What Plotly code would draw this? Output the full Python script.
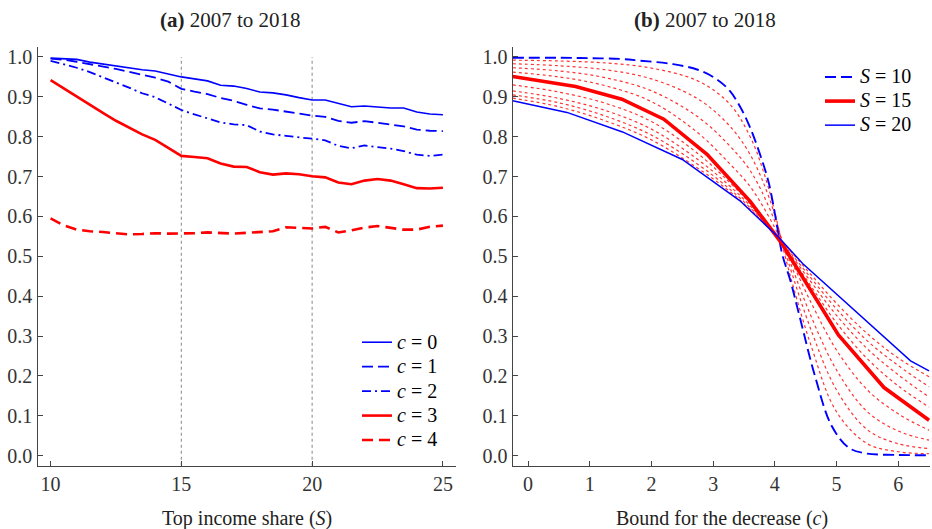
import plotly.graph_objects as go

# ---------------- Panel (a): share of the top income group ----------------
share_S = [10.0, 10.5, 11.0, 11.5, 12.0, 12.5, 13.0, 13.5, 14.0, 14.5, 15.0,
           15.5, 16.0, 16.5, 17.0, 17.5, 18.0, 18.5, 19.0, 19.5, 20.0,
           20.5, 21.0, 21.5, 22.0, 22.5, 23.0, 23.5, 24.0, 24.5, 25.0]

prob_c0 = [0.997, 0.996, 0.994, 0.987, 0.982, 0.978, 0.973, 0.968, 0.965, 0.958, 0.950,
           0.945, 0.940, 0.929, 0.927, 0.921, 0.912, 0.910, 0.905, 0.898, 0.892,
           0.892, 0.883, 0.875, 0.877, 0.875, 0.872, 0.872, 0.862, 0.857, 0.855]
prob_c1 = [0.996, 0.993, 0.988, 0.982, 0.977, 0.970, 0.963, 0.956, 0.948, 0.938, 0.920,
           0.913, 0.907, 0.897, 0.890, 0.880, 0.871, 0.868, 0.863, 0.857, 0.853,
           0.850, 0.840, 0.835, 0.839, 0.835, 0.830, 0.826, 0.818, 0.815, 0.814]
prob_c2 = [0.990, 0.982, 0.973, 0.962, 0.950, 0.936, 0.923, 0.909, 0.899, 0.883, 0.867,
           0.856, 0.846, 0.836, 0.831, 0.829, 0.813, 0.806, 0.802, 0.799, 0.795,
           0.791, 0.777, 0.771, 0.778, 0.774, 0.770, 0.764, 0.755, 0.752, 0.755]
prob_c3 = [0.942, 0.921, 0.900, 0.880, 0.860, 0.840, 0.822, 0.806, 0.792, 0.771, 0.752,
           0.749, 0.746, 0.733, 0.725, 0.724, 0.711, 0.705, 0.708, 0.706, 0.701,
           0.698, 0.685, 0.681, 0.690, 0.694, 0.690, 0.681, 0.671, 0.670, 0.672]
prob_c4 = [0.595, 0.578, 0.567, 0.563, 0.561, 0.558, 0.555, 0.556, 0.558, 0.557, 0.557,
           0.558, 0.560, 0.559, 0.557, 0.559, 0.561, 0.563, 0.573, 0.571, 0.570,
           0.574, 0.560, 0.565, 0.572, 0.576, 0.571, 0.567, 0.567, 0.574, 0.577]

reference_shares = [15, 20]

# ---------------- Panel (b): bound for the decrease ----------------
bound_S10 = [-0.25, 0.5, 1.0, 1.5, 1.8, 2.35, 2.75, 3.05, 3.27, 3.43, 3.58, 3.75,
             3.9, 4.02, 4.12, 4.25, 4.4, 4.65, 4.92, 5.2, 5.47, 6.0, 6.5]
prob_S10 = [0.998, 0.998, 0.997, 0.995, 0.991, 0.982, 0.968, 0.945, 0.915, 0.877, 0.830, 0.760,
            0.685, 0.590, 0.505, 0.440, 0.350, 0.200, 0.075, 0.020, 0.006, 0.002, 0.001]

bound_S15 = [-0.25, 0.77, 1.52, 2.2, 2.9, 3.6, 4.1, 5.03, 5.77, 6.5]
prob_S15 = [0.951, 0.926, 0.894, 0.844, 0.756, 0.638, 0.535, 0.303, 0.171, 0.089]

bound_S20 = [-0.25, 0.63, 1.53, 2.5, 3.43, 4.08, 4.45, 6.2, 6.5]
prob_S20 = [0.890, 0.861, 0.812, 0.743, 0.640, 0.545, 0.482, 0.238, 0.213]

# intermediate shares, all on one grid of bounds
bound_grid = [-0.25, 0.5, 1.25, 2.0, 2.75, 3.25, 3.6, 3.9, 4.2, 4.6, 5.0, 5.5, 6.0, 6.5]
prob_S11 = [0.992, 0.990, 0.985, 0.972, 0.940, 0.885, 0.800, 0.670, 0.480, 0.270, 0.110, 0.030, 0.010, 0.005]
prob_S12 = [0.983, 0.978, 0.968, 0.945, 0.895, 0.830, 0.755, 0.650, 0.495, 0.310, 0.165, 0.065, 0.030, 0.018]
prob_S13 = [0.973, 0.965, 0.948, 0.915, 0.850, 0.780, 0.715, 0.625, 0.505, 0.345, 0.215, 0.110, 0.062, 0.039]
prob_S14 = [0.962, 0.950, 0.928, 0.888, 0.810, 0.735, 0.675, 0.600, 0.510, 0.380, 0.265, 0.165, 0.105, 0.064]
prob_S16 = [0.930, 0.912, 0.884, 0.838, 0.758, 0.688, 0.632, 0.576, 0.513, 0.422, 0.333, 0.243, 0.175, 0.122]
prob_S17 = [0.915, 0.896, 0.866, 0.819, 0.743, 0.679, 0.627, 0.574, 0.516, 0.433, 0.352, 0.268, 0.203, 0.147]
prob_S18 = [0.905, 0.885, 0.852, 0.804, 0.731, 0.671, 0.622, 0.573, 0.519, 0.443, 0.368, 0.288, 0.226, 0.173]
prob_S19 = [0.897, 0.875, 0.840, 0.792, 0.721, 0.665, 0.618, 0.571, 0.522, 0.452, 0.382, 0.306, 0.245, 0.198]

y_ticks = [0.0, 0.1, 0.2, 0.3, 0.4, 0.5, 0.6, 0.7, 0.8, 0.9, 1.0]
x_ticks_a = [10, 15, 20, 25]
x_ticks_b = [0, 1, 2, 3, 4, 5, 6]

BLUE = "#0000ff"
RED = "#ff0000"
FONT = "Liberation Serif"
AXIS_COL = "#444444"
TEXT_COL = "#333333"


def legend_label(sym, val):
    # legend rows are spaced by the (smaller) legend font; the label itself is drawn larger
    return f'<span style="font-size:20px"><i>{sym}</i> = {val}</span>'


fig = go.Figure()

# dotted guide lines in panel (a)
for s in reference_shares:
    fig.add_trace(go.Scatter(x=[s, s], y=[-0.025, 1.0], mode="lines",
                             line=dict(color="#999999", width=1.2, dash="dot"),
                             showlegend=False, hoverinfo="skip", xaxis="x", yaxis="y"))

panel_a = [
    (prob_c0, BLUE, 1.6, "solid"),
    (prob_c1, BLUE, 1.8, "11px,5px"),
    (prob_c2, BLUE, 1.8, "9px,4px,2px,4px"),
    (prob_c3, RED, 2.6, "solid"),
    (prob_c4, RED, 2.6, "11px,6px"),
]
for i, (vals, col, w, dash) in enumerate(panel_a):
    fig.add_trace(go.Scatter(
        x=share_S, y=vals, mode="lines",
        line=dict(color=col, width=w, dash=dash),
        name=legend_label("c", i), legend="legend", xaxis="x", yaxis="y"))

# intermediate shares in panel (b)
for vals in [prob_S11, prob_S12, prob_S13, prob_S14, prob_S16, prob_S17, prob_S18, prob_S19]:
    fig.add_trace(go.Scatter(
        x=bound_grid, y=vals, mode="lines", line_shape="spline",
        line=dict(color="rgba(255,0,0,0.8)", width=1.2, dash="dot"),
        showlegend=False, hoverinfo="skip", xaxis="x2", yaxis="y2"))

fig.add_trace(go.Scatter(x=bound_S10, y=prob_S10, mode="lines", line_shape="spline",
                         line=dict(color=BLUE, width=1.9, dash="11px,5px"),
                         name=legend_label("S", 10), legend="legend2", xaxis="x2", yaxis="y2"))
fig.add_trace(go.Scatter(x=bound_S15, y=prob_S15, mode="lines",
                         line=dict(color=RED, width=3.6),
                         name=legend_label("S", 15), legend="legend2", xaxis="x2", yaxis="y2"))
fig.add_trace(go.Scatter(x=bound_S20, y=prob_S20, mode="lines",
                         line=dict(color=BLUE, width=1.5),
                         name=legend_label("S", 20), legend="legend2", xaxis="x2", yaxis="y2"))

W, H = 932, 529


def px_x(p):
    return p / W


def px_y(p):
    return 1 - p / H


common_axis = dict(showline=True, linecolor=AXIS_COL, linewidth=1.3, ticks="inside",
                   ticklen=5, tickwidth=1.2, tickcolor=AXIS_COL, showgrid=False,
                   zeroline=False, automargin=False,
                   tickfont=dict(family=FONT, size=20, color=TEXT_COL))

fig.update_layout(
    width=W, height=H, margin=dict(l=0, r=0, t=0, b=0),
    paper_bgcolor="white", plot_bgcolor="white",
    xaxis=dict(domain=[px_x(37.5), px_x(456)], range=[9.5, 25.5], tickvals=x_ticks_a,
               anchor="y", **common_axis),
    yaxis=dict(domain=[px_y(465.7), px_y(47)], range=[-0.025, 1.025], tickvals=y_ticks,
               tickformat=".1f", anchor="x", **common_axis),
    xaxis2=dict(domain=[px_x(512.7), px_x(930.3)], range=[-0.25, 6.52], tickvals=x_ticks_b,
                anchor="y2", **common_axis),
    yaxis2=dict(domain=[px_y(465.7), px_y(47)], range=[-0.025, 1.025], tickvals=y_ticks,
                tickformat=".1f", anchor="x2", **common_axis),
    legend=dict(x=px_x(357), y=px_y(325), xanchor="left", yanchor="top",
                bgcolor="rgba(0,0,0,0)", font=dict(family=FONT, size=16.5, color="black"),
                tracegroupgap=0),
    legend2=dict(x=px_x(820), y=px_y(60), xanchor="left", yanchor="top",
                 bgcolor="rgba(0,0,0,0)", font=dict(family=FONT, size=16.2, color="black"),
                 tracegroupgap=0),
    showlegend=True,
)

titles = [
    ("<b>(a)</b> 2007 to 2018", 230, 20, 21),
    ("<b>(b)</b> 2007 to 2018", 705, 20, 21),
    ("Top income share (<i>S</i>)", (37.5 + 456) / 2, 518, 20),
    ("Bound for the decrease (<i>c</i>)", (512.7 + 930.3) / 2, 518, 20),
]
for text, cx, cy, fs in titles:
    fig.add_annotation(text=text, x=px_x(cx), y=px_y(cy), xref="paper", yref="paper",
                       showarrow=False, xanchor="center", yanchor="middle",
                       font=dict(family=FONT, size=fs, color="#222222"))

fig.write_html("out.html")
